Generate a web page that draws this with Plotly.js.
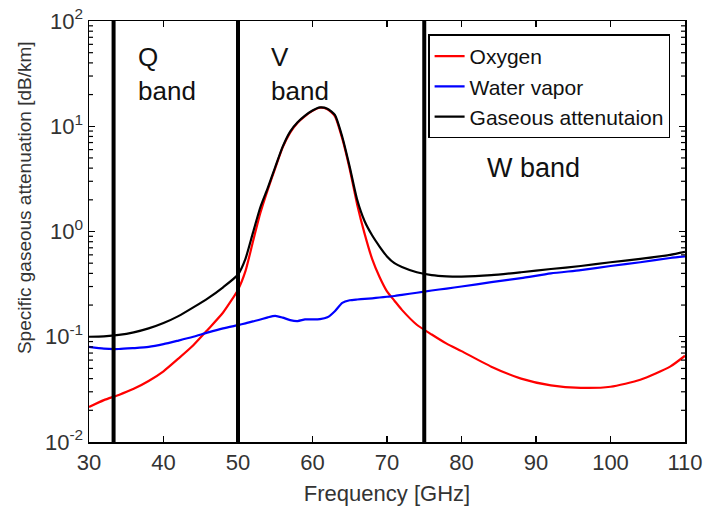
<!DOCTYPE html>
<html>
<head>
<meta charset="utf-8">
<script src="https://cdn.plot.ly/plotly-3.0.1.min.js"></script>
<style>html,body{margin:0;padding:0;background:#fff;}#chart{width:703px;height:506px;}</style>
</head>
<body>
<div id="chart"></div>
<script>
const freq = [30,32,34,36,38,40,42,44,46,48,50,51,52,53,54,55,56,57,58,59,60,61,62,63,64,65,66,67,68,69,70,71,72,74,76,78,80,84,88,92,96,100,104,108,110];
const oxygen = [0.0215,0.025,0.028,0.032,0.038,0.047,0.062,0.083,0.118,0.17,0.28,0.42,0.8,1.5,2.5,4.0,6.3,8.7,10.8,12.5,14.0,15.0,14.5,12.5,7.6,3.9,1.8,0.95,0.55,0.37,0.27,0.22,0.18,0.13,0.105,0.086,0.073,0.052,0.04,0.0345,0.0327,0.0335,0.039,0.052,0.066];
const waterVapor = [0.080,0.077,0.0765,0.078,0.080,0.085,0.092,0.100,0.11,0.12,0.129,0.134,0.14,0.146,0.153,0.158,0.152,0.144,0.141,0.146,0.146,0.147,0.153,0.175,0.21,0.222,0.226,0.229,0.232,0.236,0.24,0.244,0.25,0.262,0.275,0.287,0.30,0.33,0.36,0.40,0.43,0.47,0.51,0.56,0.58];
const gaseous = [0.100,0.101,0.104,0.11,0.12,0.135,0.157,0.19,0.233,0.295,0.39,0.55,0.97,1.7,2.6,4.1,6.4,8.9,10.9,12.6,14.1,15.1,14.7,12.8,7.9,4.1,2.0,1.25,0.92,0.72,0.58,0.5,0.46,0.41,0.385,0.375,0.373,0.385,0.41,0.44,0.47,0.51,0.55,0.6,0.64];
const seriesNames = ["Oxygen","Water vapor","Gaseous attenutaion"];
const seriesColors = ["#ff0000","#0000ff","#000000"];
const bandEdges = [33.3, 50, 75];
const bandLabels = ["Q<br>band","V<br>band","W band"];
const bandLabelX = [36.3, 54.2, 83.2];
const bandLabelY = [1.5, 1.5, 0.6];   // log10 positions
const yTickVals = [0.01, 0.1, 1, 10, 100];
const yTickText = ["10<sup>-2</sup>","10<sup>-1</sup>","10<sup>0</sup>","10<sup>1</sup>","10<sup>2</sup>"];
const yTitle = "Specific gaseous attenuation [dB/km]";
const xTitle = "Frequency [GHz]";

const font = "Liberation Sans, Arial, sans-serif";
const txt = "#333333";
const series = [oxygen, waterVapor, gaseous];
const traces = series.map((ys, i) => ({
  x: freq, y: ys, type: "scatter", mode: "lines", name: seriesNames[i],
  line: {color: seriesColors[i], width: 2.2, shape: "spline", smoothing: 0.6}
}));

const shapes = bandEdges.map(b => ({
  type: "line", xref: "x", yref: "paper", x0: b, x1: b, y0: 0, y1: 1,
  line: {color: "#000", width: 4}, layer: "above"
}));

// minor log ticks (axis decoration), inside on left and right
const plotW = 703 - 89 - 18;
const tickFrac = 4 / plotW;
const yMin = -2, yMax = 2;
for (let e = yMin; e < yMax; e++) {
  for (let m = 2; m <= 9; m++) {
    const p = (Math.log10(m * Math.pow(10, e)) - yMin) / (yMax - yMin);
    shapes.push({type: "line", xref: "paper", yref: "paper", x0: 0, x1: tickFrac, y0: p, y1: p, line: {color: "#000", width: 1.2}, layer: "above"});
    shapes.push({type: "line", xref: "paper", yref: "paper", x0: 1 - tickFrac, x1: 1, y0: p, y1: p, line: {color: "#000", width: 1.2}, layer: "above"});
  }
}

const annotations = bandLabels.map((t, i) => ({
  text: t, x: bandLabelX[i], y: bandLabelY[i], xref: "x", yref: "y",
  xanchor: "left", yanchor: "middle", align: "left", showarrow: false,
  font: {family: font, size: i === 2 ? 27 : 26, color: "#111"}
}));
annotations.push({
  text: yTitle, xref: "paper", yref: "paper", x: -0.107, y: 0.58,
  xanchor: "center", yanchor: "middle", textangle: -90, showarrow: false,
  font: {family: font, size: 19, color: txt}
});

const layout = {
  width: 703, height: 506,
  margin: {l: 89, r: 18, t: 21, b: 64},
  paper_bgcolor: "#fff", plot_bgcolor: "#fff",
  showlegend: true,
  legend: {
    x: 0.975, y: 0.968, xanchor: "right", yanchor: "top",
    bgcolor: "#fff", bordercolor: "#000", borderwidth: 1.5,
    font: {family: font, size: 21, color: "#111"},
    tracegroupgap: 0, itemwidth: 30
  },
  xaxis: {
    range: [30, 110], dtick: 10, tick0: 30,
    ticks: "inside", ticklen: 6, tickwidth: 1.2, tickcolor: "#000",
    showline: true, linecolor: "#000", linewidth: 1.5, mirror: "allticks",
    showgrid: false, zeroline: false,
    tickfont: {family: font, size: 22, color: txt},
    title: {text: xTitle, font: {family: font, size: 22, color: txt}, standoff: 11}
  },
  yaxis: {
    type: "log", range: [yMin, yMax], tickmode: "array", tickvals: yTickVals, ticktext: yTickText,
    ticks: "inside", ticklen: 6, tickwidth: 1.2, tickcolor: "#000",
    showline: true, linecolor: "#000", linewidth: 1.5, mirror: "allticks",
    showgrid: false, zeroline: false,
    tickfont: {family: font, size: 22, color: txt}
  },
  shapes: shapes,
  annotations: annotations
};

Plotly.newPlot("chart", traces, layout, {displayModeBar: false, staticPlot: true});
</script>
</body>
</html>
